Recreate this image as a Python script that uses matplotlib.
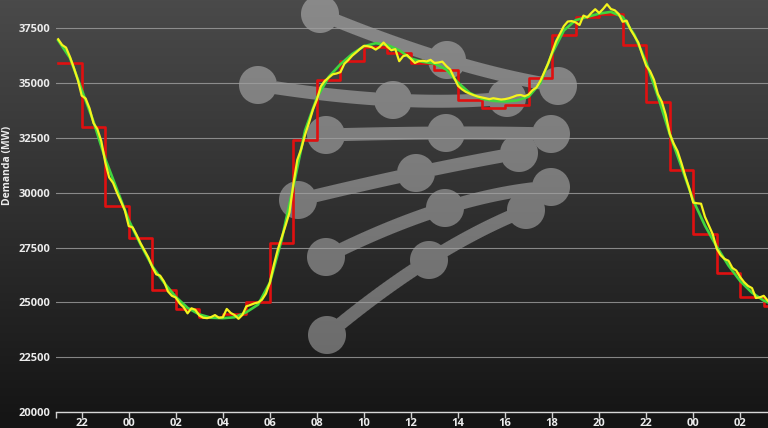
import numpy as np
import matplotlib.pyplot as plt

# Hourly demand (red steps), first value is 21:00 -> 22:00
red_start = 21
red_mw = [35940, 33000, 29390, 27940, 25575, 24680, 24320, 24450, 25030, 27700,
          32420, 35120, 36030, 36640, 36360, 35900, 35600, 34240, 33860, 34010,
          35230, 37200, 38030, 38150, 36740, 34140, 31060, 28100, 26360, 25230, 24820]

# Real demand (yellow), every 10 minutes from 21:00
real_mw = [
    37000, 36740, 36620, 36200, 35700, 35150,
    34430, 34300, 33850, 33180, 32900, 32350,
    31400, 30700, 30450, 30000, 29600, 29200,
    28480, 28420, 28080, 27700, 27380, 27050,
    26620, 26280, 26220, 25950, 25500, 25300,
    25220, 24950, 24780, 24500, 24730, 24660,
    24400, 24300, 24280, 24330, 24420, 24300,
    24320, 24700, 24520, 24420, 24250, 24430,
    24820, 24880, 24950, 25000, 25120, 25400,
    25900, 26700, 27400, 27950, 28500, 29100,
    30400, 31500, 32000, 32650, 33200, 33800,
    34250, 34850, 35100, 35250, 35400, 35440,
    35500, 35880, 36050, 36250, 36400, 36560,
    36700, 36680, 36640, 36530, 36650, 36850,
    36650, 36500, 36550, 36000, 36230, 36280,
    36100, 35920, 36000, 36020, 35990, 36060,
    35920, 35940, 35980, 35780, 35620, 35250,
    34880, 34720, 34600, 34520, 34450, 34390,
    34350, 34310, 34270, 34310, 34280, 34250,
    34270, 34310, 34370, 34440, 34460, 34400,
    34480, 34680, 34800, 35100, 35500, 35900,
    36400, 36900, 37250, 37600, 37810, 37830,
    37770, 37650, 38080, 38000, 38200, 38370,
    38200, 38380, 38600, 38380, 38320, 38150,
    37800, 37850, 37450, 37150, 36850, 36300,
    35800, 35550, 35150, 34500, 34150, 33550,
    32700, 32250, 31900, 31350, 30750, 30200,
    29550, 29520, 29500, 28900, 28500, 28100,
    27450, 27150, 26980, 26900, 26570, 26450,
    26150, 25920, 25750, 25650, 25200, 25230,
    25300, 25080]

# Forecast demand (green), every 30 minutes from 21:00
forecast_mw = [36950, 36150, 34700, 33250, 31550, 30150, 28750, 27650, 26650, 25900,
               25250, 24750, 24450, 24300, 24280, 24320, 24550, 24900, 25900, 27850,
               30300, 32850, 34330, 35280, 35860, 36330, 36680, 36820, 36740, 36500,
               36120, 35970, 35890, 35620, 35020, 34550, 34290, 34190, 34160, 34210,
               34380, 35000, 36350, 37400, 37870, 38020, 38170, 38250, 38020, 37200,
               35950, 34400, 32680, 31180, 29650, 28500, 27540, 26680, 25970, 25440,
               25080, 24850]

x_ticks = list(range(22, 51, 2))
y_ticks = list(range(20000, 37501, 2500))

# watermark logo: rows of three dots (pixel positions)
logo_rows = [
    [(320, 14), (447, 60), (558, 86)],
    [(258, 85), (393, 100), (507, 98)],
    [(326, 135), (446, 133), (551, 134)],
    [(298, 200), (416, 173), (519, 153)],
    [(326, 257), (445, 208), (551, 187)],
    [(327, 335), (429, 260), (526, 210)],
]

W, H = 768, 428
fig = plt.figure(figsize=(W / 100, H / 100), dpi=100)

# background gradient + logo
yy, xx = np.mgrid[0:H, 0:W] + 0.5
cover = np.zeros((H, W))
t = np.linspace(0, 1, 31)
l0, l1, l2 = 2 * (t - 0.5) * (t - 1), -4 * t * (t - 1), 2 * t * (t - 0.5)
for row in logo_rows:
    p = np.array(row, float)
    cx = l0 * p[0, 0] + l1 * p[1, 0] + l2 * p[2, 0]
    cy = l0 * p[0, 1] + l1 * p[1, 1] + l2 * p[2, 1]
    for i in range(len(t) - 1):
        dx, dy = cx[i + 1] - cx[i], cy[i + 1] - cy[i]
        u = np.clip(((xx - cx[i]) * dx + (yy - cy[i]) * dy) / (dx * dx + dy * dy), 0, 1)
        d = np.hypot(xx - cx[i] - u * dx, yy - cy[i] - u * dy)
        cover = np.maximum(cover, np.clip(6.5 - d + 0.5, 0, 1))
    for x0, y0 in row:
        d = np.hypot(xx - x0, yy - y0)
        cover = np.maximum(cover, np.clip(19 - d + 0.5, 0, 1))

bg = np.linspace(74, 20, H)[:, None] * np.ones((1, W))
img = bg * (1 - 0.35 * cover) + 255 * 0.35 * cover
img = np.repeat((img / 255)[:, :, None], 3, axis=2)

bax = fig.add_axes([0, 0, 1, 1])
bax.imshow(img, aspect='auto', extent=(0, 1, 0, 1), interpolation='nearest')
bax.set_axis_off()

ax = fig.add_axes([56 / W, 16 / H, 1 - 56 / W, 412 / H])
ax.set_facecolor('none')

red_x = red_start + np.arange(len(red_mw) + 1)
ax.plot(red_x, red_mw + [red_mw[-1]], drawstyle='steps-post', color='#e01010', lw=1.9, zorder=3)
ax.plot(21 + np.arange(len(forecast_mw)) * 0.5, forecast_mw, color='#3fd63f', lw=1.9, zorder=4)
ax.plot(21 + np.arange(len(real_mw)) / 6, real_mw, color='#f4f41c', lw=1.6, zorder=5)

ax.set_xlim(20.907, 51.18)
ax.set_ylim(20000, 38791)

ax.set_yticks(y_ticks)
ax.set_yticklabels([str(v) for v in y_ticks])
ax.set_xticks(x_ticks)
ax.set_xticklabels([f"{h % 24:02d}" for h in x_ticks])
ax.set_xticks([20.907], minor=True)

for lab in ax.get_xticklabels() + ax.get_yticklabels():
    lab.set_fontfamily('Open Sans')
    lab.set_fontweight('bold')
    lab.set_fontsize(8)
    lab.set_color('#ececec')

ax.tick_params(axis='y', length=0, pad=4)
ax.tick_params(axis='x', which='both', length=4, width=1, color='#d0d0d0', pad=0)
ax.grid(axis='y', color='#a0a0a0', lw=0.8, alpha=0.8)
ax.set_axisbelow(True)

for s in ['top', 'right', 'left']:
    ax.spines[s].set_visible(False)
ax.spines['bottom'].set_color('#d8d8d8')
ax.spines['bottom'].set_linewidth(1)

fig.text(8 / W, 1 - 165 / H, 'Demanda (MW)', rotation=90, ha='center', va='center',
         fontsize=7.5, fontweight='bold', color='#ececec', family='Open Sans')

fig.savefig('out.png', dpi=100)
